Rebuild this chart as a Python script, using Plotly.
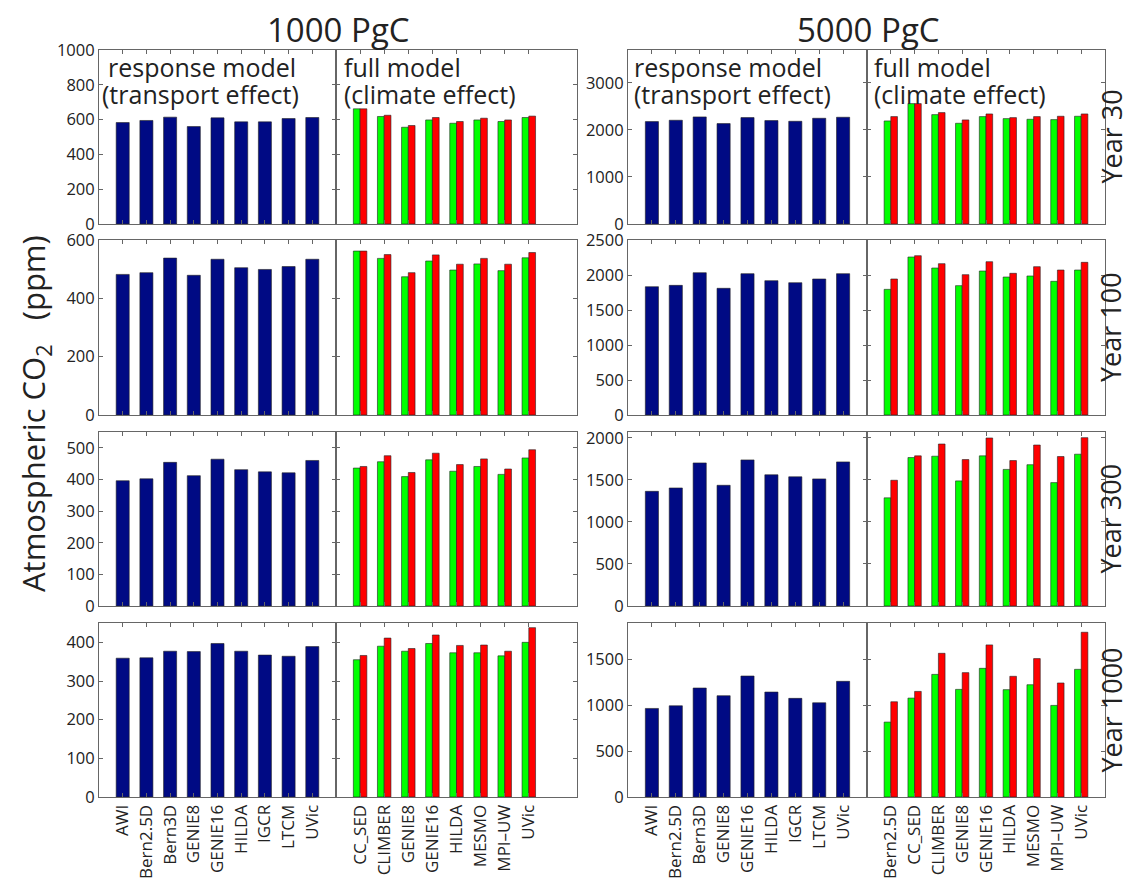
import plotly.graph_objects as go

# ---------------- data ----------------
years = ["Year 30", "Year 100", "Year 300", "Year 1000"]
models_resp = ["AWI", "Bern2.5D", "Bern3D", "GENIE8", "GENIE16", "HILDA", "IGCR", "LTCM", "UVic"]
models_full_1000 = ["CC_SED", "CLIMBER", "GENIE8", "GENIE16", "HILDA", "MESMO", "MPI\u2013UW", "UVic"]
models_full_5000 = ["Bern2.5D", "CC_SED", "CLIMBER", "GENIE8", "GENIE16", "HILDA", "MESMO", "MPI\u2013UW", "UVic"]

resp_1000_y30 = [583, 595, 614, 560, 610, 587, 587, 606, 612]
resp_1000_y100 = [482, 488, 538, 479, 534, 505, 499, 509, 534]
resp_1000_y300 = [396, 402, 454, 412, 464, 431, 424, 421, 460]
resp_1000_y1000 = [359, 360, 377, 376, 397, 377, 367, 364, 389]

full_1000_green_y30 = [662, 618, 556, 598, 579, 598, 589, 612]
full_1000_red_y30 = [662, 625, 566, 612, 589, 608, 598, 620]
full_1000_green_y100 = [562, 537, 474, 528, 497, 518, 495, 539]
full_1000_red_y100 = [562, 550, 488, 549, 517, 537, 517, 557]
full_1000_green_y300 = [436, 456, 409, 462, 426, 441, 416, 468]
full_1000_red_y300 = [441, 475, 422, 483, 447, 465, 433, 494]
full_1000_green_y1000 = [355, 390, 377, 397, 373, 373, 365, 400]
full_1000_red_y1000 = [366, 411, 384, 419, 392, 393, 377, 438]

resp_5000_y30 = [2177, 2206, 2277, 2135, 2262, 2199, 2184, 2248, 2270]
resp_5000_y100 = [1833, 1852, 2033, 1810, 2019, 1919, 1890, 1943, 2019]
resp_5000_y300 = [1364, 1404, 1702, 1436, 1738, 1561, 1537, 1512, 1714]
resp_5000_y1000 = [967, 996, 1190, 1106, 1321, 1146, 1077, 1029, 1263]

full_5000_green_y30 = [2191, 2560, 2326, 2142, 2284, 2241, 2227, 2220, 2291]
full_5000_red_y30 = [2284, 2560, 2369, 2213, 2340, 2262, 2284, 2291, 2340]
full_5000_green_y100 = [1795, 2257, 2100, 1848, 2057, 1971, 1986, 1910, 2071]
full_5000_red_y100 = [1943, 2276, 2162, 2005, 2190, 2024, 2119, 2071, 2181]
full_5000_green_y300 = [1287, 1766, 1782, 1488, 1786, 1625, 1681, 1468, 1806]
full_5000_red_y300 = [1496, 1786, 1927, 1742, 1999, 1730, 1915, 1778, 2003]
full_5000_green_y1000 = [818, 1080, 1339, 1175, 1405, 1172, 1226, 1000, 1394]
full_5000_red_y1000 = [1040, 1153, 1569, 1358, 1661, 1318, 1511, 1245, 1799]

resp_1000 = [resp_1000_y30, resp_1000_y100, resp_1000_y300, resp_1000_y1000]
full_1000_green = [full_1000_green_y30, full_1000_green_y100, full_1000_green_y300, full_1000_green_y1000]
full_1000_red = [full_1000_red_y30, full_1000_red_y100, full_1000_red_y300, full_1000_red_y1000]
resp_5000 = [resp_5000_y30, resp_5000_y100, resp_5000_y300, resp_5000_y1000]
full_5000_green = [full_5000_green_y30, full_5000_green_y100, full_5000_green_y300, full_5000_green_y1000]
full_5000_red = [full_5000_red_y30, full_5000_red_y100, full_5000_red_y300, full_5000_red_y1000]

yrange_1000 = [1000, 600, 550, 450]
yticks_1000 = [[0, 200, 400, 600, 800, 1000], [0, 200, 400, 600], [0, 100, 200, 300, 400, 500], [0, 100, 200, 300, 400]]
yrange_5000 = [3700, 2500, 2070, 1900]
yticks_5000 = [[0, 1000, 2000, 3000], [0, 500, 1000, 1500, 2000, 2500], [0, 500, 1000, 1500, 2000], [0, 500, 1000, 1500]]

# ---------------- layout geometry ----------------
# figure kept inside the viewport (page body has an 8px margin)
OFF = 8
W, H = 1124, 875


def fx(px):
    return (px - OFF) / W


def fy(py):
    return 1 - (py - OFF) / H


col_px = [(99, 336), (336, 577), (628, 867), (867, 1105)]
row_px = [(50, 224), (240, 415), (432, 606), (623, 797)]
col_dom = [(fx(a), fx(b)) for a, b in col_px]
row_dom = [(fy(b), fy(t)) for t, b in row_px]

BLUE = "#000A84"
GREEN = "#00FF00"
RED = "#FF0000"
EDGE = "#222222"
AXC = "#666666"
FONT = "Open Sans"
TXT = "#222222"

fig = go.Figure()
layout = {}

bw = 0.55
hw = 0.28

for r in range(4):
    for c in range(4):
        n = r * 4 + c + 1
        xa = "x" if n == 1 else f"x{n}"
        ya = "y" if n == 1 else f"y{n}"
        if c == 0:
            cats, vals = models_resp, resp_1000[r]
        elif c == 2:
            cats, vals = models_resp, resp_5000[r]
        elif c == 1:
            cats = models_full_1000
        else:
            cats = models_full_5000
        pos = list(range(1, len(cats) + 1))
        if c in (0, 2):
            fig.add_trace(go.Bar(x=pos, y=vals, width=bw, offset=-bw / 2,
                                 marker=dict(color=BLUE, line=dict(color=EDGE, width=0.6)),
                                 xaxis=xa, yaxis=ya, showlegend=False, hoverinfo="y"))
        else:
            g = full_1000_green[r] if c == 1 else full_5000_green[r]
            rd = full_1000_red[r] if c == 1 else full_5000_red[r]
            fig.add_trace(go.Bar(x=pos, y=g, width=hw, offset=-hw,
                                 marker=dict(color=GREEN, line=dict(color=EDGE, width=0.6)),
                                 xaxis=xa, yaxis=ya, showlegend=False, hoverinfo="y"))
            fig.add_trace(go.Bar(x=pos, y=rd, width=hw, offset=0,
                                 marker=dict(color=RED, line=dict(color=EDGE, width=0.6)),
                                 xaxis=xa, yaxis=ya, showlegend=False, hoverinfo="y"))

        left_group = c in (0, 1)
        yr = yrange_1000[r] if left_group else yrange_5000[r]
        yt = yticks_1000[r] if left_group else yticks_5000[r]

        xkey = "xaxis" if n == 1 else f"xaxis{n}"
        ykey = "yaxis" if n == 1 else f"yaxis{n}"
        layout[xkey] = dict(
            domain=list(col_dom[c]), anchor=ya, range=[0, 10],
            tickmode="array", tickvals=pos, ticktext=cats,
            showticklabels=(r == 3), tickangle=-90, automargin=False,
            ticks="inside", ticklen=4, tickcolor=AXC, mirror="ticks",
            showline=True, linecolor=AXC, linewidth=1, showgrid=False, zeroline=False,
            tickfont=dict(family=FONT, size=17, color=TXT), fixedrange=True,
        )
        layout[ykey] = dict(
            domain=list(row_dom[r]), anchor=xa, range=[0, yr],
            tickmode="array", tickvals=yt, ticktext=[str(v) for v in yt],
            showticklabels=(c in (0, 2)), automargin=False,
            ticks="inside", ticklen=4, tickcolor=AXC, mirror="ticks",
            showline=True, linecolor=AXC, linewidth=1, showgrid=False, zeroline=False,
            tickfont=dict(family=FONT, size=16.5, color=TXT), fixedrange=True,
        )

annotations = []


def ann(text, x, y, size, xanchor="center", yanchor="middle", angle=0):
    annotations.append(dict(text=text, x=fx(x), y=fy(y), xref="paper", yref="paper",
                            xanchor=xanchor, yanchor=yanchor, textangle=angle, showarrow=False,
                            font=dict(family=FONT, size=size, color=TXT)))


# column titles
ann("1000 PgC", 338, 30, 33)
ann("5000 PgC", 868, 30, 33)
# row labels
for r in range(4):
    t, b = row_px[r]
    ann(years[r], 1131, (t + b) / 2, 27, xanchor="right", angle=-90)
# y-axis title
ann("Atmospheric CO<sub>2</sub>   (ppm)", 10, 414, 31, xanchor="left", angle=-90)
# panel labels (two lines each)
for x1, x2, l1, l2 in [(106, 100, "response model", "(transport effect)"),
                       (342, 342, "full model", "(climate effect)"),
                       (632, 632, "response model", "(transport effect)"),
                       (872, 872, "full model", "(climate effect)")]:
    ann(l1, x1, 67, 25, xanchor="left")
    ann(l2, x2, 94, 25, xanchor="left")

fig.update_layout(
    width=W, height=H, margin=dict(l=0, r=0, t=0, b=0, autoexpand=False),
    paper_bgcolor="white", plot_bgcolor="white",
    barmode="overlay", showlegend=False,
    annotations=annotations, **layout,
)

fig.write_html("out.html")
